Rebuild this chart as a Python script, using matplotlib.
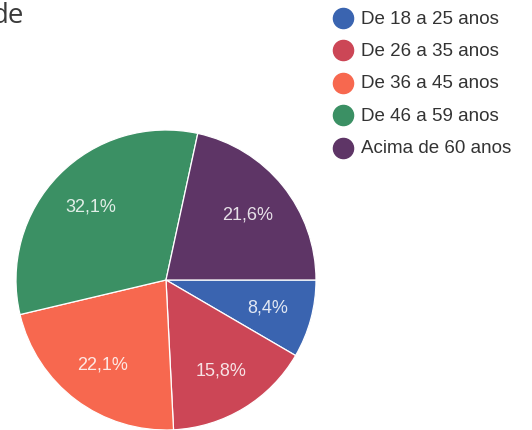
import matplotlib
matplotlib.use("Agg")
import matplotlib.pyplot as plt
from matplotlib.lines import Line2D

categories = ["De 18 a 25 anos", "De 26 a 35 anos", "De 36 a 45 anos",
              "De 46 a 59 anos", "Acima de 60 anos"]
values = [8.4, 15.8, 22.1, 32.1, 21.6]
pct_labels = ["8,4%", "15,8%", "22,1%", "32,1%", "21,6%"]
colors = ["#3a64b0", "#cc4656", "#f7684f", "#3b9064", "#5e3566"]
title_text = "de"

W, H = 532, 431
fig = plt.figure(figsize=(W / 100, H / 100), dpi=100)
fig.patch.set_facecolor("white")
ax = fig.add_axes([0, 0, 1, 1])
cx, cy, R = 166, 281, 150

wedges, texts = ax.pie(values, colors=colors, startangle=0, counterclock=False,
                       radius=1.0, labels=pct_labels, labeldistance=0.7,
                       wedgeprops=dict(edgecolor="white", linewidth=0.9),
                       textprops=dict(color="white", alpha=0.85, fontsize=13,
                                      family="Liberation Sans"))
for t in texts:
    t.set_ha("center")
    t.set_va("center")

ax.set_aspect("auto")
ax.set_xlim(-cx / R, (W - cx) / R)
ax.set_ylim(-(H - cy) / R, cy / R)
ax.axis("off")

# title fragment (cut at the left edge, as in the reference)
fig.text(24 / W, 1 - 23 / H, title_text, ha="right", va="baseline",
         fontsize=20, color="#3a3a3a", family="Open Sans")

# legend
y0, dy = 19, 32.4
for i, (lab, col) in enumerate(zip(categories, colors)):
    yy = 1 - (y0 + dy * i) / H
    fig.add_artist(Line2D([343 / W], [yy], marker="o", markersize=14.5,
                          color=col, linestyle="none",
                          transform=fig.transFigure))
    fig.text(361 / W, yy, lab, ha="left", va="center", fontsize=13.5,
             color="#333333", family="Liberation Sans")

fig.savefig("out.png", dpi=100, facecolor="white")
